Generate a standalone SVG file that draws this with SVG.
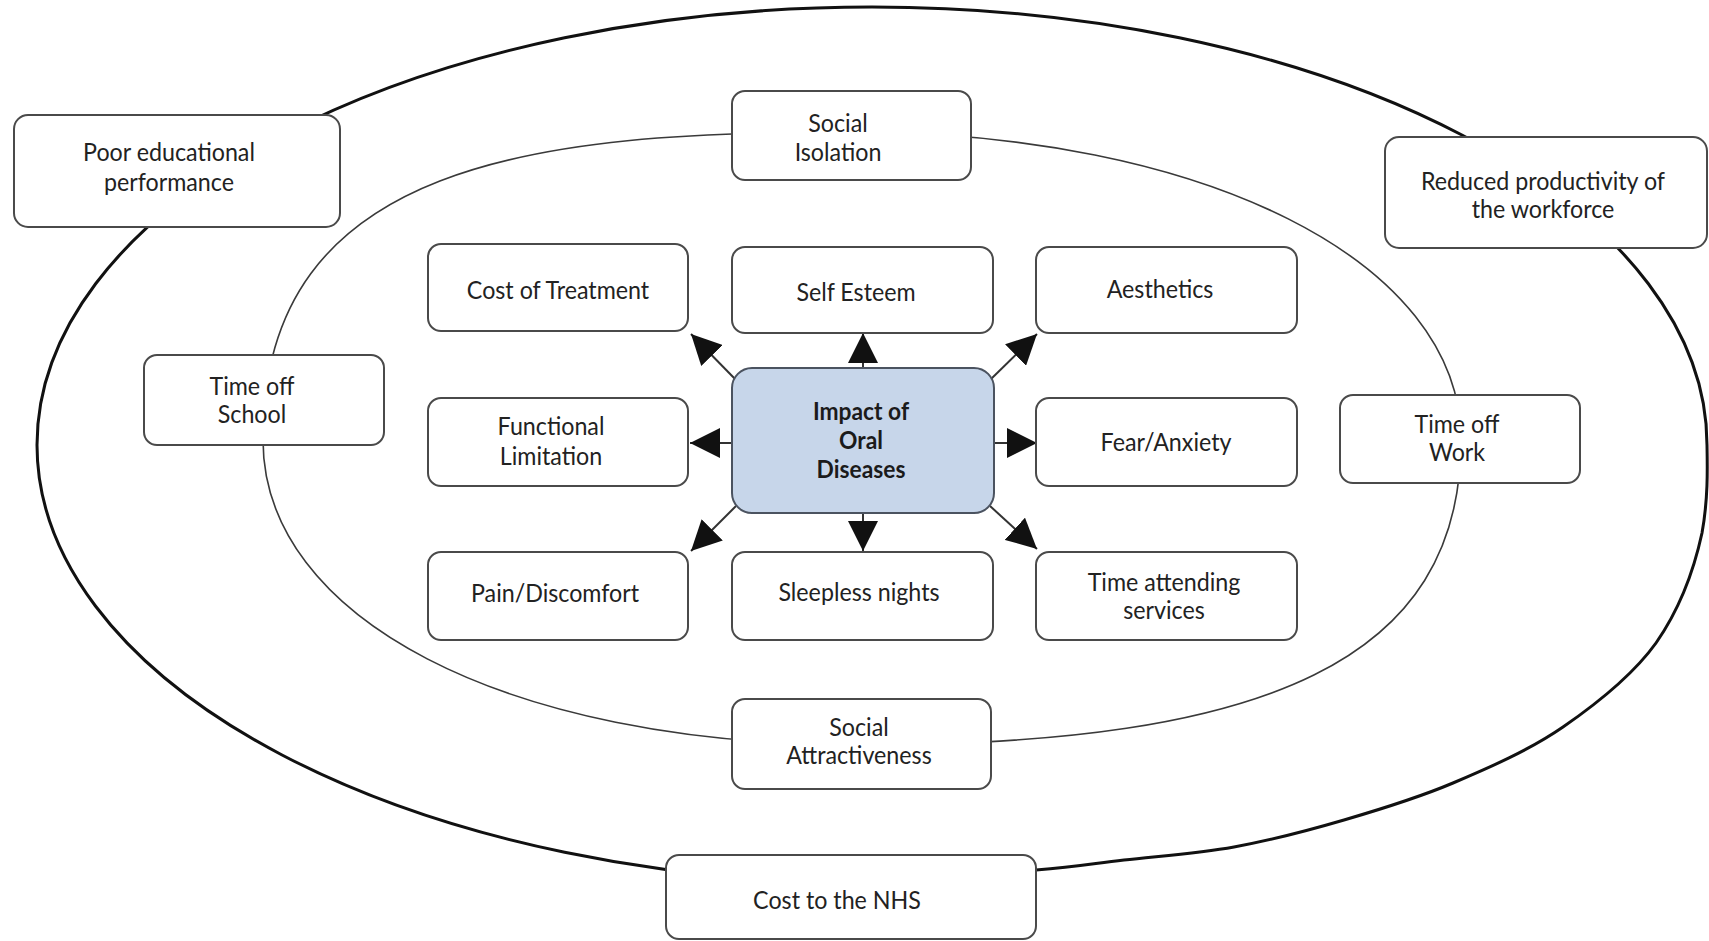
<svg xmlns="http://www.w3.org/2000/svg" width="1709" height="941" viewBox="0 0 1709 941">
  <style>
    .ring-outer { fill: none; stroke: #111; stroke-width: 3; }
    .ring-inner { fill: none; stroke: #3a3a3a; stroke-width: 1.6; }
    .box { fill: #fff; stroke: #4a4a4a; stroke-width: 2; }
    .core { fill: #c7d6ea; stroke: #4b5360; stroke-width: 2; }
    .lbl { font-family: Lato, "Open Sans", sans-serif; font-size: 25px; fill: #222; text-anchor: middle; }
    .bold { font-weight: 700; font-size: 24px; fill: #1b1b1b; }
    .arrow { stroke: #333; stroke-width: 2; fill: none; marker-end: url(#head); }
  </style>
  <defs>
    <marker id="head" markerUnits="userSpaceOnUse" viewBox="0 0 30 30" markerWidth="30" markerHeight="30" refX="30" refY="15" orient="auto">
      <path d="M0,0 L30,15 L0,30 Z" fill="#111"/>
    </marker>
  </defs>

  <rect width="1709" height="941" fill="#fff"/>

  <!-- rings: outer (society) and inner (individual) -->
  <g id="rings">
    <path class="ring-outer" d="M 872 883 A 835 438 0 1 1 1707 445
      C 1707.5 470, 1708 500, 1702 533
      C 1694 570, 1679 610, 1656 643
      C 1632.8 675.3, 1596.8 703.7, 1563 727
      C 1529.2 750.3, 1489.5 767.5, 1453 783
      C 1416.5 798.5, 1380.5 809.3, 1344 820
      C 1307.5 830.7, 1270.7 840.3, 1234 847
      C 1197.3 853.7, 1157 856.2, 1124 860
      C 1091 863.8, 1078 866.2, 1036 870
      C 994 873.8, 922 883, 872 883 Z"/>
    <path class="ring-inner" d="M 263 440
      C 262 160, 540 132, 850 132
      C 1204 132, 1461 261, 1461 440
      C 1461 660, 1269 745, 860 745
      C 502 745, 263 617, 263 440 Z"/>
  </g>

  <!-- arrows from the central node -->
  <g id="connectors">
    <line class="arrow" x1="863" y1="368" x2="863" y2="333"/>
    <line class="arrow" x1="863" y1="513" x2="863" y2="551"/>
    <line class="arrow" x1="732" y1="443" x2="690" y2="443"/>
    <line class="arrow" x1="994" y1="443" x2="1037" y2="443"/>
    <line class="arrow" x1="736" y1="380" x2="691" y2="334"/>
    <line class="arrow" x1="990" y1="380" x2="1037" y2="334"/>
    <line class="arrow" x1="736" y1="506" x2="691" y2="551"/>
    <line class="arrow" x1="990" y1="506" x2="1037" y2="549"/>
  </g>

  <g id="poor-education">
    <rect class="box" x="14" y="115" width="326" height="112" rx="14"/>
    <text class="lbl" transform="matrix(.93 0 0 1 169 0)"><tspan x="0" y="161">Poor educational</tspan><tspan x="0" y="191">performance</tspan></text>
  </g>
  <g id="social-isolation">
    <rect class="box" x="732" y="91" width="239" height="89" rx="13"/>
    <text class="lbl" transform="matrix(.93 0 0 1 838 0)"><tspan x="0" y="132">Social</tspan><tspan x="0" y="161">Isolation</tspan></text>
  </g>
  <g id="reduced-productivity">
    <rect class="box" x="1385" y="137" width="322" height="111" rx="14"/>
    <text class="lbl" transform="matrix(.93 0 0 1 1543 0)"><tspan x="0" y="190">Reduced productivity of</tspan><tspan x="0" y="218">the workforce</tspan></text>
  </g>
  <g id="cost-of-treatment">
    <rect class="box" x="428" y="244" width="260" height="87" rx="13"/>
    <text class="lbl" transform="matrix(.93 0 0 1 558 0)" x="0" y="299">Cost of Treatment</text>
  </g>
  <g id="self-esteem">
    <rect class="box" x="732" y="247" width="261" height="86" rx="13"/>
    <text class="lbl" transform="matrix(.93 0 0 1 856 0)" x="0" y="301">Self Esteem</text>
  </g>
  <g id="aesthetics">
    <rect class="box" x="1036" y="247" width="261" height="86" rx="13"/>
    <text class="lbl" transform="matrix(.93 0 0 1 1160 0)" x="0" y="298">Aesthetics</text>
  </g>
  <g id="time-off-school">
    <rect class="box" x="144" y="355" width="240" height="90" rx="13"/>
    <text class="lbl" transform="matrix(.93 0 0 1 252 0)"><tspan x="0" y="395">Time off</tspan><tspan x="0" y="423">School</tspan></text>
  </g>
  <g id="functional-limitation">
    <rect class="box" x="428" y="398" width="260" height="88" rx="13"/>
    <text class="lbl" transform="matrix(.93 0 0 1 551 0)"><tspan x="0" y="435">Functional</tspan><tspan x="0" y="465">Limitation</tspan></text>
  </g>
  <g id="impact">
    <rect class="core" x="732" y="368" width="262" height="145" rx="20"/>
    <text class="lbl bold" transform="matrix(.95 0 0 1 861 0)"><tspan x="0" y="420">Impact of</tspan><tspan x="0" y="449">Oral</tspan><tspan x="0" y="478">Diseases</tspan></text>
  </g>
  <g id="fear-anxiety">
    <rect class="box" x="1036" y="398" width="261" height="88" rx="13"/>
    <text class="lbl" transform="matrix(.93 0 0 1 1166 0)" x="0" y="451">Fear/Anxiety</text>
  </g>
  <g id="time-off-work">
    <rect class="box" x="1340" y="395" width="240" height="88" rx="13"/>
    <text class="lbl" transform="matrix(.93 0 0 1 1457 0)"><tspan x="0" y="433">Time off</tspan><tspan x="0" y="461">Work</tspan></text>
  </g>
  <g id="pain-discomfort">
    <rect class="box" x="428" y="552" width="260" height="88" rx="13"/>
    <text class="lbl" transform="matrix(.93 0 0 1 555 0)" x="0" y="602">Pain/Discomfort</text>
  </g>
  <g id="sleepless-nights">
    <rect class="box" x="732" y="552" width="261" height="88" rx="13"/>
    <text class="lbl" transform="matrix(.93 0 0 1 859 0)" x="0" y="601">Sleepless nights</text>
  </g>
  <g id="time-attending">
    <rect class="box" x="1036" y="552" width="261" height="88" rx="13"/>
    <text class="lbl" transform="matrix(.93 0 0 1 1164 0)"><tspan x="0" y="591">Time attending</tspan><tspan x="0" y="619">services</tspan></text>
  </g>
  <g id="social-attractiveness">
    <rect class="box" x="732" y="699" width="259" height="90" rx="13"/>
    <text class="lbl" transform="matrix(.93 0 0 1 859 0)"><tspan x="0" y="736">Social</tspan><tspan x="0" y="764">Attractiveness</tspan></text>
  </g>
  <g id="cost-to-nhs">
    <rect class="box" x="666" y="855" width="370" height="84" rx="13"/>
    <text class="lbl" transform="matrix(.93 0 0 1 837 0)" x="0" y="909">Cost to the NHS</text>
  </g>
</svg>
